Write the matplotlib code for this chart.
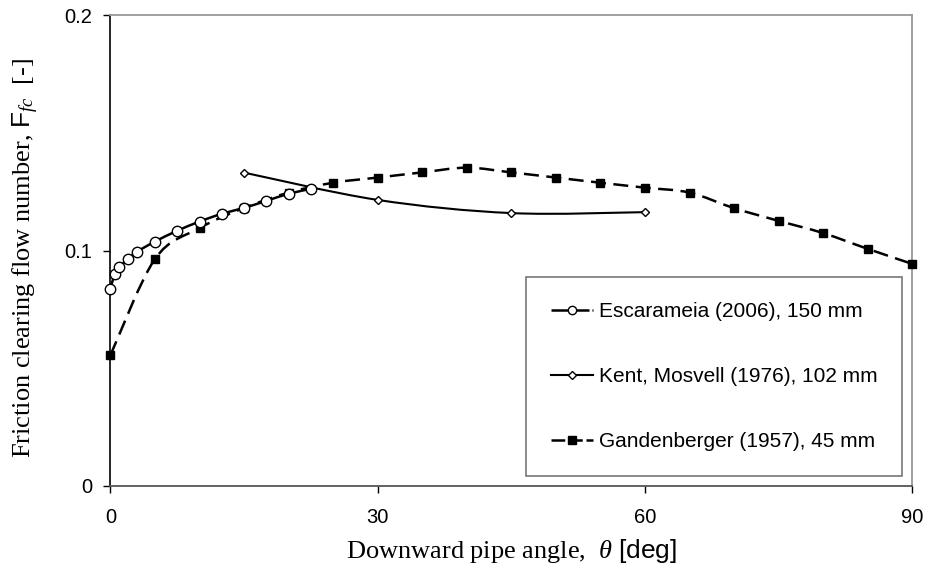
import numpy as np
import matplotlib
matplotlib.use("Agg")
import matplotlib.pyplot as plt
from matplotlib.path import Path
from matplotlib.patches import PathPatch
from matplotlib.lines import Line2D

# Escarameia (2006), 150 mm
esc_angle = [0, 0.5, 1, 2, 3, 5, 7.5, 10, 12.5, 15, 17.5, 20, 22.5]
esc_ffc = [0.0838, 0.0903, 0.0931, 0.0965, 0.0996, 0.1039, 0.1085,
           0.1124, 0.1157, 0.1182, 0.1212, 0.1242, 0.1263]

# Kent, Mosvell (1976), 102 mm
kent_angle = [15, 30, 45, 60]
kent_ffc = [0.1332, 0.1216, 0.1160, 0.1164]

# Gandenberger (1957), 45 mm
gan_angle = [0, 5, 10, 15, 20, 25, 30, 35, 40, 45, 50, 55, 60, 65,
             70, 75, 80, 85, 90]
gan_ffc = [0.0556, 0.0965, 0.1096, 0.1182, 0.1247, 0.1289, 0.1311,
           0.1333, 0.1353, 0.1333, 0.1311, 0.1289, 0.1268, 0.1247,
           0.1181, 0.1127, 0.1075, 0.1008, 0.0944]

labels = ["Escarameia (2006), 150 mm",
          "Kent, Mosvell (1976), 102 mm",
          "Gandenberger (1957), 45 mm"]
x_ticks = [0, 30, 60, 90]
y_ticks = [0, 0.1, 0.2]
y_ticklabels = ["0", "0.1", "0.2"]

plt.rcParams["font.family"] = "Liberation Sans"
plt.rcParams["mathtext.fontset"] = "custom"
plt.rcParams["mathtext.rm"] = "Liberation Serif"
plt.rcParams["mathtext.it"] = "Liberation Serif:italic"
plt.rcParams["mathtext.sf"] = "Liberation Sans"


def smooth_path(xs, ys):
    """Cubic Bezier path through the points (Catmull-Rom style tangents)."""
    x = np.asarray(xs, float)
    y = np.asarray(ys, float)
    n = len(x)
    verts = [(x[0], y[0])]
    codes = [Path.MOVETO]
    for i in range(n - 1):
        p0 = np.array([x[max(i - 1, 0)], y[max(i - 1, 0)]])
        p1 = np.array([x[i], y[i]])
        p2 = np.array([x[i + 1], y[i + 1]])
        p3 = np.array([x[min(i + 2, n - 1)], y[min(i + 2, n - 1)]])
        c1 = p1 + (p2 - p0) / 6.0
        c2 = p2 - (p3 - p1) / 6.0
        verts += [tuple(c1), tuple(c2), tuple(p2)]
        codes += [Path.CURVE4] * 3
    return Path(verts, codes)


fig = plt.figure(figsize=(9.28, 5.67), dpi=100)
ax = fig.add_axes([0.119, 0.1429, 0.864, 0.8298])

lw = 1.8
gan_dash = (0, (6, 3))

# curves
ax.add_patch(PathPatch(smooth_path(gan_angle, gan_ffc), fill=False,
                       lw=lw, ls=gan_dash, ec="black", zorder=2))
ax.add_patch(PathPatch(smooth_path(kent_angle, kent_ffc), fill=False,
                       lw=1.5, ec="black", zorder=2))
ax.add_patch(PathPatch(smooth_path(esc_angle, esc_ffc), fill=False,
                       lw=lw, ec="black", zorder=2))

# markers
ax.plot(gan_angle, gan_ffc, ls="none", marker="s", ms=5.5,
        mfc="black", mec="black", zorder=3, clip_on=False)
ax.plot(kent_angle, kent_ffc, ls="none", marker="D", ms=4.3,
        mfc="white", mec="black", mew=1.0, zorder=3, clip_on=False)
ax.plot(esc_angle, esc_ffc, ls="none", marker="o", ms=7.5,
        mfc="white", mec="black", mew=1.0, zorder=4, clip_on=False)

ax.set_xlim(0, 90)
ax.set_ylim(0, 0.2)
ax.set_xticks(x_ticks)
ax.set_yticks(y_ticks)
ax.set_yticklabels(y_ticklabels)
ax.tick_params(axis="both", direction="out", length=5, width=1.0,
               labelsize=14.5, colors="black")
ax.tick_params(axis="x", pad=11)
ax.tick_params(axis="y", pad=8)

for side in ("top", "right"):
    ax.spines[side].set_color("#999999")
    ax.spines[side].set_linewidth(1.3)
ax.spines["left"].set_color("black")
ax.spines["left"].set_linewidth(1.2)
ax.spines["bottom"].set_color("#555555")
ax.spines["bottom"].set_linewidth(1.3)

ax.set_xlabel(r"Downward pipe angle,  $\mathit{\theta}$ $\mathsf{[deg]}$",
              family="Liberation Serif", fontsize=19)
ax.xaxis.set_label_coords(0.5, -0.108)
ax.set_ylabel(r"Friction clearing flow number, $\mathsf{F}_{\mathit{fc}}$  [-]",
              family="Liberation Serif", fontsize=19)
ax.yaxis.set_label_coords(-0.087, 0.485)

handles = [
    Line2D([], [], color="black", lw=lw, ls=(0, (7, 1.2)), marker="o",
           ms=6, mfc="white", mec="black", mew=1.0),
    Line2D([], [], color="black", lw=1.5, marker="D", ms=4,
           mfc="white", mec="black", mew=1.0),
    Line2D([], [], color="black", lw=lw, ls=(0, (5.5, 1.5)), marker="s",
           ms=5.5, mfc="black", mec="black"),
]
leg = ax.legend(handles, labels, loc="lower right",
                bbox_to_anchor=(0.9875, 0.0213), borderaxespad=0,
                fontsize=15, frameon=True, fancybox=False, shadow=False,
                labelspacing=2.2, handlelength=2.05, handletextpad=0.25,
                borderpad=1.2)
leg.get_frame().set_edgecolor("#555555")
leg.get_frame().set_linewidth(1.2)

fig.savefig("out.png", dpi=100)
